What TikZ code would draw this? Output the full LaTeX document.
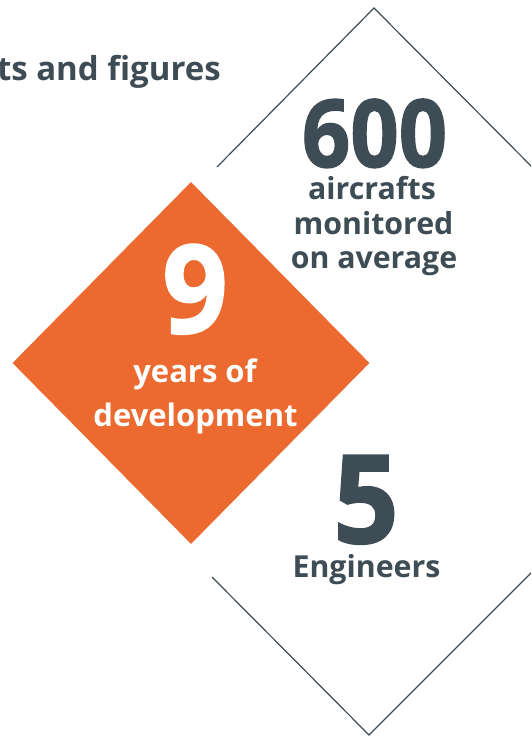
\documentclass[tikz,border=0pt]{standalone}
\usepackage{fontspec}
\setmainfont{Open Sans}
\newfontfamily\heavy{Open Sans}[BoldFeatures={FakeBold=1.5}]
\usetikzlibrary{shapes.geometric}
\definecolor{ink}{HTML}{3D4C55}
\definecolor{orng}{HTML}{EC6A2F}
\tikzset{
  outline/.style={draw=ink, line width=1.2pt},
  bignum/.style={anchor=base, inner sep=0pt, text depth=0pt, xscale=0.93, font=\heavy\bfseries\fontsize{123}{123}\selectfont},
  label/.style={anchor=base, inner sep=0pt, font=\bfseries\fontsize{30.3}{35}\selectfont, align=center},
}
\begin{document}
\begin{tikzpicture}[x=1pt,y=-1pt]
\useasboundingbox (0,0) rectangle (531,737);
\clip (0,0) rectangle (531,737);
% outline diamond segments
\coordinate (topapex) at (374,8);
\coordinate (topleft) at (217,167);
\coordinate (topright) at (540,175);
\coordinate (botapex) at (369,735);
\coordinate (botleft) at (212,577);
\coordinate (botright) at (540,564);
\draw[outline] (topleft) -- (topapex) -- (topright);
\draw[outline] (botleft) -- (botapex) -- (botright);
% orange diamond
\node[diamond, fill=orng, inner sep=0pt, minimum width=357pt, minimum height=362pt] (orange) at (191,363) {};
% title
\node[anchor=base east, inner sep=0pt, text=ink, font=\bfseries\fontsize{33}{35}\selectfont] (title) at (221,80) {ts and figures};
% 600
\node[bignum, text=ink, xscale=0.97, font=\heavy\bfseries\fontsize{94}{94}\selectfont] (n600) at (374.5,167) {600};
\node[label, text=ink] (t600a) at (372,199) {aircrafts};
\node[label, text=ink] (t600b) at (373.5,234) {monitored};
\node[label, text=ink] (t600c) at (374,268) {on average};
% 9
\node[bignum, text=white] (n9) at (195,333) {9};
\node[label, text=white, font=\bfseries\fontsize{31}{35}\selectfont] (t9a) at (195,382) {years of};
\node[label, text=white, font=\bfseries\fontsize{31}{35}\selectfont] (t9b) at (195.5,426) {development};
% 5
\node[bignum, text=ink] (n5) at (366,543) {5};
\node[label, text=ink] (t5) at (366.5,577) {Engineers};
\end{tikzpicture}
\end{document}
